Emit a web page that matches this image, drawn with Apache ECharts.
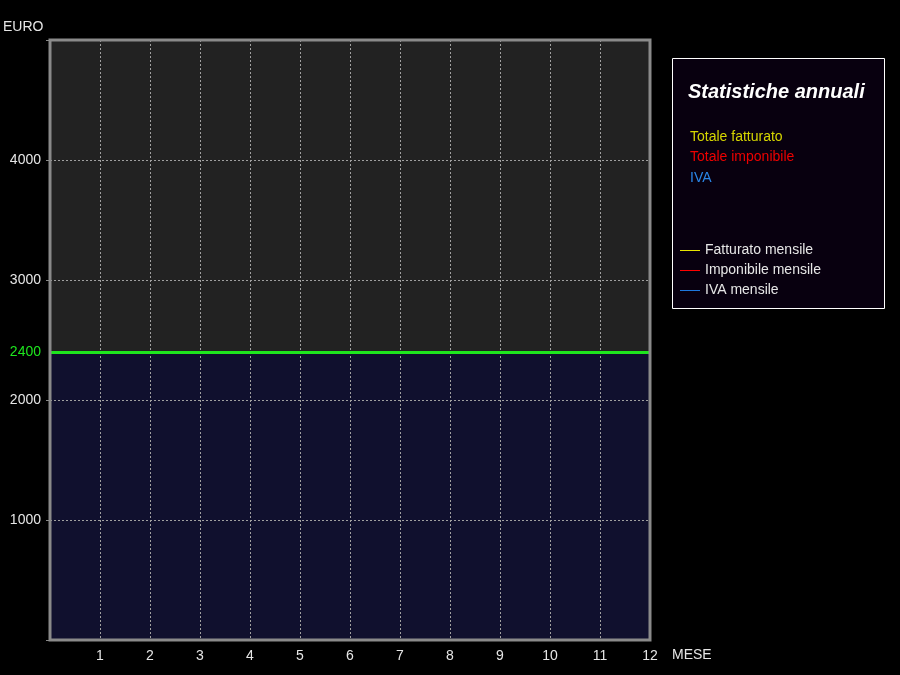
<!DOCTYPE html>
<html>
<head>
<meta charset="utf-8">
<script src="https://cdn.jsdelivr.net/npm/echarts@6/dist/echarts.min.js"></script>
<style>
  html, body { margin: 0; padding: 0; background: #000; }
  #chart { width: 900px; height: 675px; }
</style>
</head>
<body>
<div id="chart"></div>
<script>
// mesi sull'asse x
var months = [1, 2, 3, 4, 5, 6, 7, 8, 9, 10, 11, 12];
// serie mensili (nessun valore registrato)
var fatturatoMensile = [];
var imponibileMensile = [];
var ivaMensile = [];
// soglia evidenziata
var soglia = 2400;
// righe del riquadro
var totali = ["Totale fatturato", "Totale imponibile", "IVA"];
var seriesNames = ["Fatturato mensile", "Imponibile mensile", "IVA mensile"];

var font = "'Liberation Sans', Arial, sans-serif";
var chart = echarts.init(document.getElementById("chart"));

chart.setOption({
  backgroundColor: "#000000",
  animation: false,
  textStyle: { fontFamily: font },
  grid: {
    left: 50,
    top: 40,
    width: 600,
    height: 600,
    show: true,
    backgroundColor: "#222222",
    borderWidth: 0
  },
  xAxis: {
    type: "value",
    min: 0,
    max: 12,
    interval: 1,
    z: 3,
    axisLine: { show: false },
    axisTick: { show: false },
    axisLabel: {
      color: "#e6e6e6",
      fontSize: 14,
      margin: 9,
      formatter: function (v) { return months.indexOf(v) >= 0 ? String(v) : ""; }
    },
    splitLine: {
      lineStyle: { color: "#a0a0a0", type: [2, 2], width: 1 }
    }
  },
  yAxis: {
    type: "value",
    min: 0,
    max: 5000,
    interval: 1000,
    z: 3,
    axisLine: { show: false },
    axisTick: { show: true, length: 4, lineStyle: { color: "#8a8a8a" } },
    axisLabel: {
      color: "#e6e6e6",
      fontSize: 14,
      margin: 9,
      formatter: function (v) { return v === 0 || v === 5000 ? "" : String(v); }
    },
    splitLine: {
      lineStyle: { color: "#a0a0a0", type: [2, 2], width: 1 }
    }
  },
  legend: {
    orient: "vertical",
    left: 680,
    top: 243.5,
    padding: 0,
    itemWidth: 20,
    itemHeight: 1,
    itemGap: 6,
    icon: "rect",
    data: seriesNames,
    textStyle: { color: "#e6e6e6", fontSize: 14 }
  },
  graphic: [
    {
      type: "rect",
      shape: { x: 672.5, y: 58.5, width: 212, height: 250 },
      style: { fill: "#08000f", stroke: "#ffffff", lineWidth: 1 },
      z: -1
    },
    {
      type: "rect",
      shape: { x: 50, y: 40, width: 600, height: 600 },
      style: { fill: null, stroke: "#8a8a8a", lineWidth: 3 },
      z: 20
    },
    {
      type: "text",
      left: 688,
      top: 82,
      style: {
        text: "Statistiche annuali",
        fill: "#ffffff",
        font: "italic bold 20px " + font
      }
    },
    {
      type: "text",
      left: 690,
      top: 130,
      style: { text: totali[0], fill: "#d6d600", font: "14px " + font }
    },
    {
      type: "text",
      left: 690,
      top: 150,
      style: { text: totali[1], fill: "#ee0000", font: "14px " + font }
    },
    {
      type: "text",
      left: 690,
      top: 171,
      style: { text: totali[2], fill: "#2a86e8", font: "14px " + font }
    },
    {
      type: "text",
      left: 3,
      top: 20,
      style: { text: "EURO", fill: "#e6e6e6", font: "14px " + font }
    },
    {
      type: "text",
      left: 672,
      top: 648,
      style: { text: "MESE", fill: "#e6e6e6", font: "14px " + font }
    }
  ],
  series: [
    {
      name: "area",
      type: "line",
      data: [],
      silent: true,
      z: 1,
      markArea: {
        silent: true,
        itemStyle: { color: "#10102e" },
        data: [[{ yAxis: 0 }, { yAxis: soglia }]]
      }
    },
    {
      name: "soglia",
      type: "line",
      data: [],
      silent: true,
      z: 10,
      markLine: {
        silent: true,
        symbol: "none",
        lineStyle: { color: "#1ee61e", width: 3, type: "solid" },
        label: {
          position: "start",
          formatter: String(soglia),
          color: "#1ee61e",
          fontSize: 14,
          distance: 9
        },
        data: [{ yAxis: soglia }]
      }
    },
    {
      name: seriesNames[0],
      type: "line",
      color: "#e6e600",
      lineStyle: { width: 1 },
      showSymbol: false,
      data: fatturatoMensile.map(function (v, i) { return [months[i], v]; })
    },
    {
      name: seriesNames[1],
      type: "line",
      color: "#ff0000",
      lineStyle: { width: 1 },
      showSymbol: false,
      data: imponibileMensile.map(function (v, i) { return [months[i], v]; })
    },
    {
      name: seriesNames[2],
      type: "line",
      color: "#1e78dc",
      lineStyle: { width: 1 },
      showSymbol: false,
      data: ivaMensile.map(function (v, i) { return [months[i], v]; })
    }
  ]
});
</script>
</body>
</html>
